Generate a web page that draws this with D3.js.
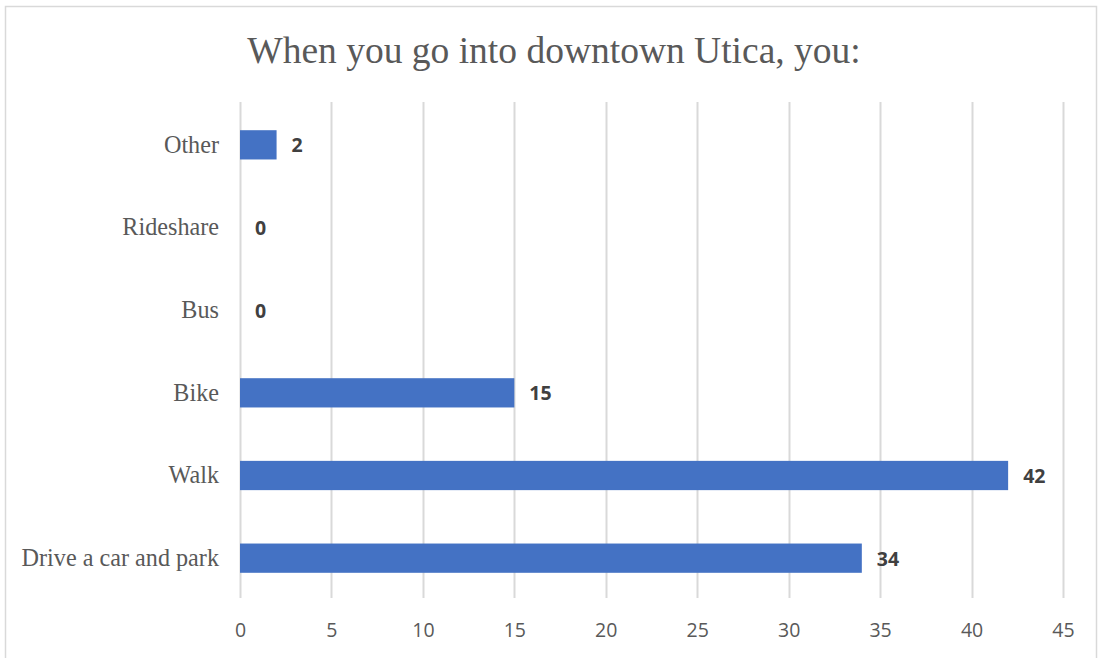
<!DOCTYPE html>
<html><head><meta charset="utf-8">
<script src="https://cdn.jsdelivr.net/npm/d3@7"></script>
<style>body{margin:0;background:#fff}svg{display:block}</style>
</head><body>
<svg id="c" width="1099" height="658"></svg>
<script>
const categories = ["Other","Rideshare","Bus","Bike","Walk","Drive a car and park"];
const values = [2,0,0,15,42,34];
const tickValues = [0,5,10,15,20,25,30,35,40,45];
const title = "When you go into downtown Utica, you:";

(function(){
const svg = d3.select("#c");
svg.append("rect").attr("x",5.5).attr("y",6.5).attr("width",1091).attr("height",670)
  .attr("fill","#fff").attr("stroke","#d9d9d9").attr("stroke-width",1.5);

const pl=240, pr=1063, pt=103.5, pb=599.5;
const x = d3.scaleLinear().domain([0,45]).range([pl,pr]);
const y = d3.scaleBand().domain(categories).range([pt,pb]).paddingInner(0.646).paddingOuter(0.323);

svg.append("text").attr("x",554).attr("y",63).attr("text-anchor","middle")
  .attr("font-family","'Liberation Serif','Times New Roman',serif").attr("font-size",37.5)
  .attr("fill","#595959").text(title);

svg.append("g").selectAll("line").data(tickValues).join("line")
  .attr("x1",d=>Math.round(x(d))+0.5).attr("x2",d=>Math.round(x(d))+0.5)
  .attr("y1",102).attr("y2",598).attr("stroke","#d9d9d9").attr("stroke-width",2);

const xa = svg.append("g").attr("transform",`translate(0,${pb})`)
  .call(d3.axisBottom(x).tickValues(tickValues).tickSize(0).tickPadding(24));
xa.select(".domain").remove();
xa.selectAll("text").attr("font-family","'Open Sans','Liberation Sans',sans-serif").attr("font-size",19.5).attr("fill","#595959");

const ya = svg.append("g").attr("transform",`translate(${pl},0)`)
  .call(d3.axisLeft(y).tickSize(0).tickPadding(21));
ya.select(".domain").remove();
ya.selectAll("text").attr("font-family","'Liberation Serif','Times New Roman',serif").attr("font-size",24.2).attr("fill","#595959");

svg.append("g").selectAll("rect").data(values).join("rect")
  .attr("x",x(0)).attr("y",(d,i)=>y(categories[i]))
  .attr("width",d=>x(d)-x(0)).attr("height",y.bandwidth())
  .attr("fill","#4472c4");

svg.append("g").selectAll("text").data(values).join("text")
  .attr("x",d=>x(d)+15).attr("y",(d,i)=>y(categories[i])+y.bandwidth()/2)
  .attr("dy","0.38em")
  .attr("font-family","'Open Sans','Liberation Sans',sans-serif").attr("font-weight","bold")
  .attr("font-size",19.5).attr("fill","#404040").text(d=>d);
})();
</script>
</body></html>
